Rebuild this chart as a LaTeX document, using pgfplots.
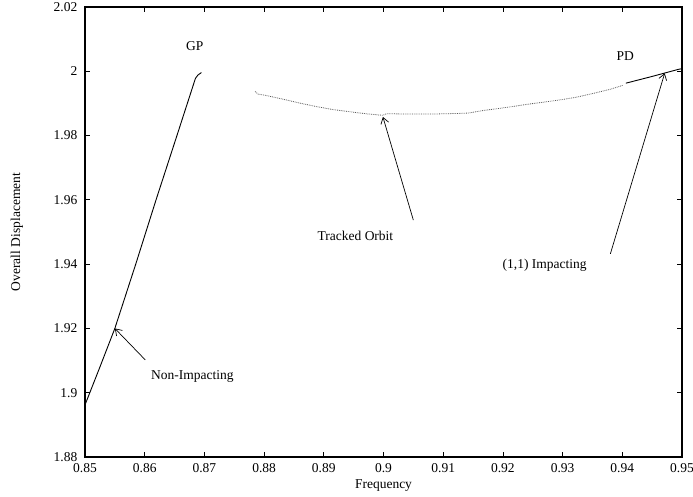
\documentclass[border=0pt]{standalone}
\usepackage{fontspec}
\setmainfont{Liberation Serif}
\usepackage{pgfplots}
\pgfplotsset{compat=1.18}
\usetikzlibrary{arrows.meta}
\begin{document}
\fontsize{13.5}{15}\selectfont
\begin{tikzpicture}
\begin{axis}[
  scale only axis,
  width=597pt, height=450pt,
  xmin=0.85, xmax=0.95, ymin=1.88, ymax=2.02,
  xtick={0.85,0.86,0.87,0.88,0.89,0.9,0.91,0.92,0.93,0.94,0.95},
  ytick={1.88,1.9,1.92,1.94,1.96,1.98,2,2.02},
  scaled ticks=false,
  /pgf/number format/assume math mode=true,
  /pgf/number format/fixed,
  tick align=inside,
  major tick length=5pt,
  tick style={black, line width=0.8pt},
  axis line style={line width=1.1pt},
  ticklabel style={font=\fontsize{13.5}{15}\selectfont},
  yticklabel style={xshift=-3pt},
  xticklabel style={yshift=-2pt},
  xlabel={Frequency},
  ylabel={Overall Displacement},
  xlabel style={at={(axis description cs:0.5,-0.064)}, anchor=center, font=\fontsize{13.5}{15}\selectfont},
  ylabel style={at={(axis description cs:-0.114,0.5)}, anchor=center, rotate=0, font=\fontsize{13.5}{15}\selectfont},
  clip=false,
]
% Non-impacting branch
\addplot[black, line width=0.9pt] coordinates {
(0.85,1.8962) (0.8525,1.9080) (0.855,1.92) (0.8585,1.94) (0.8619,1.96)
(0.8654,1.98) (0.8685,1.9978) (0.8689,1.9988) (0.8695,1.9996)
};
% Tracked orbit (dotted)
\addplot[black!65, line width=0.8pt, densely dotted] coordinates {
(0.8785,1.9937) (0.8790,1.9929) (0.8800,1.9926) (0.8832,1.9913) (0.8860,1.9901)
(0.8888,1.9890) (0.8915,1.9881) (0.8944,1.9874) (0.8970,1.9868) (0.8999,1.9863)
(0.9005,1.9868) (0.9040,1.9867) (0.9083,1.9867) (0.9128,1.9869) (0.9142,1.9870)
(0.9167,1.9878) (0.9200,1.9886) (0.9240,1.9897) (0.9296,1.9911) (0.9325,1.9920)
(0.9351,1.9931) (0.9380,1.9944) (0.9402,1.9957)
};
% (1,1) impacting branch near PD
\addplot[black, line width=0.9pt] coordinates {
(0.9406,1.9963) (0.9450,1.9984) (0.9494,2.0006) (0.9500,2.0008)
};
% annotations
\node at (axis cs:0.8684,2.0079) {GP};
\node at (axis cs:0.9405,2.0046) {PD};
\node at (axis cs:0.868,1.905) {Non-Impacting};
\node at (axis cs:0.8953,1.9488) {Tracked Orbit};
\node at (axis cs:0.927,1.9397) {(1,1) Impacting};
\draw[line width=0.7pt, -{Straight Barb[length=6pt,width=8pt]}] (axis cs:0.8601,1.9102) -- (axis cs:0.855,1.92);
\draw[line width=0.7pt, -{Straight Barb[length=6pt,width=8pt]}] (axis cs:0.9050,1.9537) -- (axis cs:0.8999,1.9858);
\draw[line width=0.7pt, -{Straight Barb[length=6pt,width=8pt]}] (axis cs:0.9380,1.9432) -- (axis cs:0.9471,1.9994);
\end{axis}
\pgfresetboundingbox
\path ([shift={(-85pt,-40pt)}]current axis.south west) rectangle ([shift={(11pt,7pt)}]current axis.north east);
\end{tikzpicture}
\end{document}
